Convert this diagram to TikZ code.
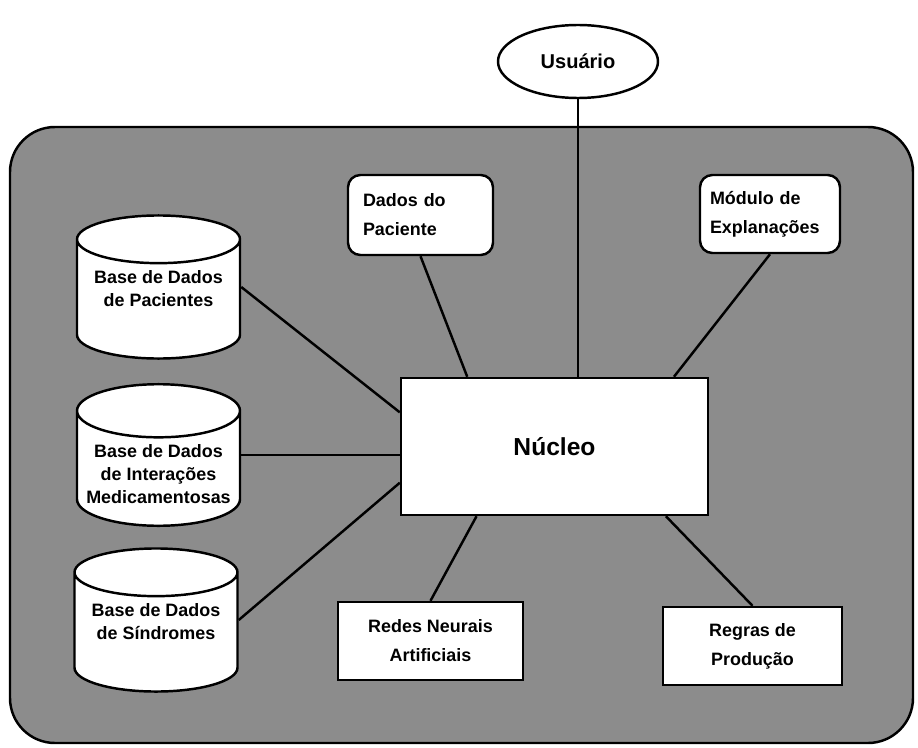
\documentclass[tikz,border=0pt]{standalone}
\usepackage{fontspec}
\setmainfont{Liberation Sans}
\usetikzlibrary{shapes.geometric,positioning,calc}
\tikzset{
caixa/.style={
  draw,
  fill=white,
  line width=1.4pt,
  font=\bfseries\fontsize{10.2}{16.5}\selectfont
  },
caixar/.style={
  caixa,
  rounded corners=7pt,
  align=left
  },
banco/.style={
  caixa,
  cylinder,
  shape border rotate=90,
  aspect=0.34,
  anchor=shape center,
  minimum width=3.26cm,
  minimum height=2.64cm,
  align=center,
  font=\bfseries\fontsize{10.2}{13}\selectfont
  },
liga/.style={line width=1.4pt}
}

\begin{document}
\begin{tikzpicture}
\useasboundingbox (0,0) rectangle (18.36,14.94);

% moldura
\draw[line width=1.4pt,fill=black!45,rounded corners=0.9cm] (0.2,0.08) rectangle (18.26,12.4);

\node[caixa,ellipse,minimum width=3.2cm,minimum height=1.46cm,font=\bfseries\fontsize{11.4}{13}\selectfont] (usuario) at (11.56,13.71) {Usuário};

\node[caixa,minimum width=6.14cm,minimum height=2.74cm,font=\bfseries\fontsize{14}{16}\selectfont] (nucleo) at (11.09,6.01) {Núcleo};

\node[caixar,text width=2.3cm,inner xsep=0.3cm,minimum height=1.6cm] (paciente) at (8.41,10.64) {Dados do\\Paciente};
\node[caixar,text width=2.4cm,inner xsep=0.2cm,minimum height=1.56cm] (explica) at (15.4,10.66) {Módulo de\\Explanações};

\node[caixa,align=center,minimum width=3.7cm,minimum height=1.56cm] (redes) at (8.61,2.12) {Redes Neurais\\Artificiais};
\node[caixa,align=center,minimum width=3.58cm,minimum height=1.56cm] (regras) at (15.05,2.02) {Regras de\\Produção};

\node[banco,text depth=18pt] (bd1) at (3.17,9.2) {Base de Dados\\de Pacientes};
\node[banco] (bd2) at (3.17,5.84) {Base de Dados\\de Interações\\Medicamentosas};
\node[banco,text depth=18pt] (bd3) at (3.12,2.54) {Base de Dados\\de Síndromes};

\draw[liga] (usuario.south) -- (usuario.south |- nucleo.north);
\draw[liga] (paciente.south) -- ($(nucleo.north west)!0.218!(nucleo.north east)$);
\draw[liga] (explica.south) -- ($(nucleo.north west)!0.886!(nucleo.north east)$);
\draw[liga] (redes.north) -- ($(nucleo.south west)!0.248!(nucleo.south east)$);
\draw[liga] (regras.north) -- ($(nucleo.south west)!0.86!(nucleo.south east)$);
\draw[liga] (bd1.shape center -| bd1.east) -- ($(nucleo.north west)!0.255!(nucleo.south west)$);
\draw[liga] (bd2.shape center -| bd2.east) -- (bd2.shape center -| nucleo.west);
\draw[liga] (bd3.shape center -| bd3.east) -- ($(nucleo.north west)!0.76!(nucleo.south west)$);
\end{tikzpicture}
\end{document}
